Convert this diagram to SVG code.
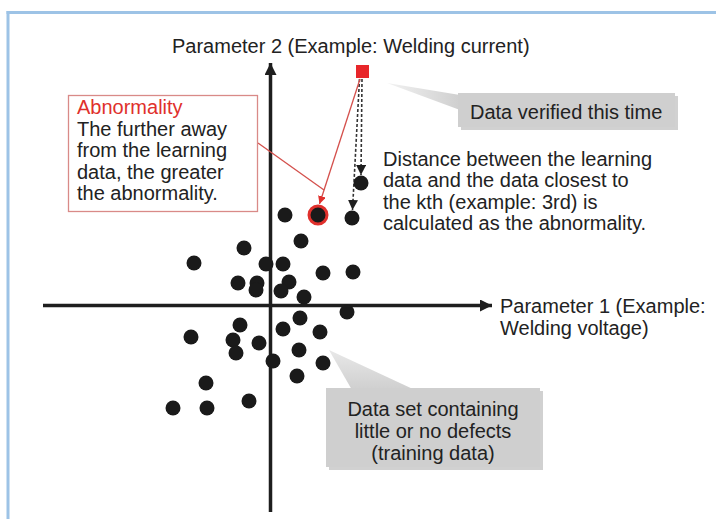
<svg xmlns="http://www.w3.org/2000/svg" width="716" height="519" viewBox="0 0 716 519">
<style>
text{font-family:"Liberation Sans",Arial,sans-serif;font-size:20px;fill:#222}
.dot{fill:#1a1a1a}
.axis{stroke:#1e1e1e;stroke-width:3.5;fill:none}
.dash{stroke:#333;stroke-width:1.6;stroke-dasharray:3 2;fill:none}
.redl{stroke:#d4504c;stroke-width:1.3;fill:none}
.callout{fill:#cfcfcf}
.shadow{fill:#9a9a9a;opacity:0.45}
</style>
<defs>
<marker id="ah" viewBox="0 0 10 10" refX="10" refY="5" markerWidth="10" markerHeight="10" markerUnits="userSpaceOnUse" orient="auto"><path d="M0,0 L10,5 L0,10 z" fill="#1e1e1e"/></marker>
<marker id="axh" viewBox="0 0 10 10" refX="10" refY="5" markerWidth="14" markerHeight="12" markerUnits="userSpaceOnUse" orient="auto"><path d="M0,0 L10,5 L0,10 z" fill="#1e1e1e"/></marker>
<marker id="rh" viewBox="0 0 10 10" refX="10" refY="5" markerWidth="8" markerHeight="8" markerUnits="userSpaceOnUse" orient="auto"><path d="M0,0 L10,5 L0,10 z" fill="#e0302c"/></marker>
<linearGradient id="wg1" x1="0" y1="0" x2="1" y2="0"><stop offset="0" stop-color="#f2f2f2"/><stop offset="1" stop-color="#cfcfcf"/></linearGradient>
<linearGradient id="wg2" x1="0" y1="0" x2="0" y2="1"><stop offset="0" stop-color="#e8e8e8"/><stop offset="1" stop-color="#cfcfcf"/></linearGradient>
</defs>
<rect width="716" height="519" fill="#fff"/>
<g id="frame" stroke="#9dc3e6" stroke-width="3" fill="none">
<line x1="6.5" y1="12.5" x2="716" y2="12.5"/>
<line x1="8" y1="11" x2="8" y2="519"/>
</g>
<g id="axes">
<line class="axis" x1="43" y1="305.5" x2="492" y2="305.5" marker-end="url(#axh)"/>
<line class="axis" x1="270.5" y1="512" x2="270.5" y2="63" marker-end="url(#axh)"/>
<text x="172" y="53">Parameter 2 (Example: Welding current)</text>
<text x="500" y="313">Parameter 1 (Example:</text>
<text x="500" y="335">Welding voltage)</text>
</g>
<g id="connectors">
<line class="dash" x1="362" y1="79" x2="361" y2="175" marker-end="url(#ah)"/>
<line class="dash" x1="359.5" y1="79" x2="352.5" y2="210" marker-end="url(#ah)"/>
<line class="redl" x1="360" y1="79" x2="319.5" y2="204" marker-end="url(#rh)"/>
<line class="redl" x1="258" y1="143" x2="324" y2="190"/>
</g>
<g id="training-data">
<circle class="dot" cx="285" cy="215" r="7.5"/>
<circle class="dot" cx="352" cy="218" r="7.5"/>
<circle class="dot" cx="361" cy="183" r="7.5"/>
<circle class="dot" cx="301" cy="241" r="7.5"/>
<circle class="dot" cx="244" cy="248" r="7.5"/>
<circle class="dot" cx="194" cy="263" r="7.5"/>
<circle class="dot" cx="266" cy="264" r="7.5"/>
<circle class="dot" cx="283" cy="264" r="7.5"/>
<circle class="dot" cx="323" cy="273" r="7.5"/>
<circle class="dot" cx="353" cy="272" r="7.5"/>
<circle class="dot" cx="238" cy="283" r="7.5"/>
<circle class="dot" cx="257" cy="283" r="7.5"/>
<circle class="dot" cx="256" cy="290" r="7.5"/>
<circle class="dot" cx="289" cy="282" r="7.5"/>
<circle class="dot" cx="281" cy="291" r="7.5"/>
<circle class="dot" cx="304" cy="297" r="7.5"/>
<circle class="dot" cx="347" cy="312" r="7.5"/>
<circle class="dot" cx="300" cy="318" r="7.5"/>
<circle class="dot" cx="240" cy="325" r="7.5"/>
<circle class="dot" cx="283" cy="329" r="7.5"/>
<circle class="dot" cx="320" cy="332" r="7.5"/>
<circle class="dot" cx="191" cy="337" r="7.5"/>
<circle class="dot" cx="233" cy="340" r="7.5"/>
<circle class="dot" cx="259" cy="343" r="7.5"/>
<circle class="dot" cx="236" cy="353" r="7.5"/>
<circle class="dot" cx="299" cy="350" r="7.5"/>
<circle class="dot" cx="273" cy="361" r="7.5"/>
<circle class="dot" cx="323" cy="363" r="7.5"/>
<circle class="dot" cx="297" cy="376" r="7.5"/>
<circle class="dot" cx="206" cy="383" r="7.5"/>
<circle class="dot" cx="249" cy="401" r="7.5"/>
<circle class="dot" cx="173" cy="408" r="7.5"/>
<circle class="dot" cx="207" cy="408" r="7.5"/>
</g>
<g id="abnormal-point">
<circle cx="318" cy="215" r="9" fill="#1a1a1a" stroke="#e0302c" stroke-width="3"/>
</g>
<g id="verified-data">
<rect x="356" y="65" width="13" height="13" fill="#e8262a"/>
</g>
<g id="abnormality-note">
<rect x="68.5" y="95.5" width="189" height="116" fill="#fff" stroke="#d98a88" stroke-width="1.3"/>
<text x="77" y="114" style="fill:#e0302c">Abnormality</text>
<text x="77" y="136">The further away</text>
<text x="77" y="157">from the learning</text>
<text x="77" y="179">data, the greater</text>
<text x="77" y="200">the abnormality.</text>
</g>
<g id="distance-note">
<text x="383" y="166">Distance between the learning</text>
<text x="383" y="187">data and the data closest to</text>
<text x="383" y="209">the kth (example: 3rd) is</text>
<text x="383" y="230">calculated as the abnormality.</text>
</g>
<g id="verified-callout">
<path d="M387,83 L460,95 L460,110 z" fill="url(#wg1)"/>
<rect class="shadow" x="461" y="96" width="217" height="34"/>
<rect class="callout" x="458" y="93" width="217" height="34"/>
<text x="470" y="119">Data verified this time</text>
</g>
<g id="training-callout">
<path d="M329,350 L352,390 L415,390 z" fill="url(#wg2)"/>
<rect class="shadow" x="329" y="391" width="214" height="79"/>
<rect class="callout" x="326" y="388" width="214" height="79"/>
<text x="433" y="416" text-anchor="middle">Data set containing</text>
<text x="433" y="438" text-anchor="middle">little or no defects</text>
<text x="433" y="460" text-anchor="middle">(training data)</text>
</g>
</svg>
